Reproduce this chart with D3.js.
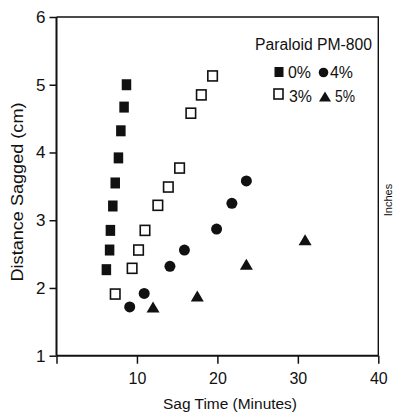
<!DOCTYPE html>
<html>
<head>
<meta charset="utf-8">
<script src="https://cdn.jsdelivr.net/npm/d3@7/dist/d3.min.js"></script>
<style>
  html, body { margin: 0; padding: 0; background: #fff; }
  svg { display: block; }
  text { font-family: "Liberation Sans", Arial, Helvetica, sans-serif; fill: #111; }
</style>
</head>
<body>
<svg id="chart" width="397" height="414"></svg>
<script>
// ---- data ----
const time0 = [8.7, 8.4, 8.0, 7.7, 7.3, 7.0, 6.7, 6.6, 6.2];
const dist0 = [5.00, 4.67, 4.32, 3.92, 3.55, 3.21, 2.85, 2.56, 2.27];
const time3 = [19.4, 18.0, 16.7, 15.3, 13.9, 12.6, 11.0, 10.2, 9.4, 7.3];
const dist3 = [5.13, 4.85, 4.58, 3.77, 3.49, 3.22, 2.85, 2.56, 2.29, 1.91];
const time4 = [23.6, 21.8, 19.9, 15.9, 14.1, 10.9, 9.1];
const dist4 = [3.58, 3.25, 2.87, 2.56, 2.32, 1.92, 1.72];
const time5 = [12.0, 17.5, 23.6, 30.9];
const dist5 = [1.72, 1.88, 2.35, 2.71];
const xTicks = [0, 10, 20, 30, 40];
const yTicks = [1, 2, 3, 4, 5, 6];
const legendTitle = "Paraloid PM-800";
const legendLabels = ["0%", "4%", "3%", "5%"];
const xTitle = "Sag Time (Minutes)";
const yTitle = "Distance Sagged (cm)";

const svg = d3.select("#chart");
const x = d3.scaleLinear().domain([0, 40]).range([56.5, 378.3]);
const y = d3.scaleLinear().domain([1, 6]).range([355.7, 17]);
const ink = "#111";

// frame (top and right)
svg.append("path")
  .attr("d", `M${x(0)},${y(6)}H${x(40)}V${y(1)}`)
  .attr("fill", "none").attr("stroke", ink).attr("stroke-width", 1.4);

// axes
const gx = svg.append("g").attr("transform", `translate(0,${y(1)})`)
  .call(d3.axisBottom(x).tickValues(xTicks).tickSize(8).tickPadding(9)
    .tickFormat(d => d === 0 ? "" : d3.format("d")(d)));
const gy = svg.append("g").attr("transform", `translate(${x(0)},0)`)
  .call(d3.axisLeft(y).tickValues(yTicks).tickSize(7).tickPadding(4)
    .tickFormat(d3.format("d")));
[gx, gy].forEach(g => {
  g.select(".domain").attr("stroke", ink).attr("stroke-width", 2);
  g.selectAll(".tick line").attr("stroke", ink).attr("stroke-width", 1.5);
  g.selectAll("text").attr("fill", ink)
    .style("font-family", '"Liberation Sans", Arial, sans-serif');
});
gx.selectAll("text").style("font-size", "16px");
gy.selectAll("text").style("font-size", "17px");
gx.select(".domain").attr("d", `M${x(0)},0H${x(40)}`);
gy.select(".domain").attr("d", `M0,${y(6)}V${y(1)}`);

// axis titles
svg.append("text").attr("x", 230).attr("y", 409).attr("text-anchor", "middle")
  .attr("font-size", 15.5).attr("textLength", 134).attr("lengthAdjust", "spacingAndGlyphs")
  .text(xTitle);
svg.append("text").attr("transform", "translate(23,192) rotate(-90)")
  .attr("text-anchor", "middle").attr("font-size", 16.5)
  .attr("textLength", 179).attr("lengthAdjust", "spacingAndGlyphs")
  .text(yTitle);
// label from neighbouring chart at right edge
svg.append("text").attr("transform", "translate(392,200) rotate(-90)")
  .attr("text-anchor", "middle").attr("font-size", 11).text("Inches");

// marker drawing helpers
function sq(g, cx, cy, w, h, filled) {
  g.append("rect").attr("x", cx - w / 2).attr("y", cy - h / 2)
    .attr("width", w).attr("height", h)
    .attr("fill", filled ? ink : "#fff")
    .attr("stroke", ink).attr("stroke-width", filled ? 0 : 1.6);
}
function tri(g, cx, cy, w, h) {
  const p = d3.path();
  p.moveTo(cx, cy - h / 2); p.lineTo(cx + w / 2, cy + h / 2); p.lineTo(cx - w / 2, cy + h / 2); p.closePath();
  g.append("path").attr("d", p.toString()).attr("fill", ink);
}
const marks = svg.append("g");
time0.forEach((t, i) => sq(marks, x(t), y(dist0[i]), 9.5, 11, true));
time3.forEach((t, i) => sq(marks, x(t), y(dist3[i]), 9.5, 10, false));
time4.forEach((t, i) => marks.append("circle").attr("cx", x(t)).attr("cy", y(dist4[i])).attr("r", 5.5).attr("fill", ink));
time5.forEach((t, i) => tri(marks, x(t), y(dist5[i]), 13, 11));

// legend
const lg = svg.append("g");
lg.append("text").attr("x", 255).attr("y", 50).attr("font-size", 16)
  .attr("textLength", 117).attr("lengthAdjust", "spacingAndGlyphs").text(legendTitle);
sq(lg, 279, 72, 9, 10, true);
lg.append("circle").attr("cx", 323.5).attr("cy", 72.5).attr("r", 4.8).attr("fill", ink);
sq(lg, 278.5, 94, 9, 10, false);
tri(lg, 325, 96.5, 12, 10);
const lpos = [[288, 78], [330, 78], [289, 101.5], [335, 101.5]];
legendLabels.forEach((l, i) => lg.append("text").attr("x", lpos[i][0]).attr("y", lpos[i][1])
  .attr("font-size", 16).attr("textLength", i === 3 ? 20 : 23).attr("lengthAdjust", "spacingAndGlyphs").text(l));
</script>
</body>
</html>
